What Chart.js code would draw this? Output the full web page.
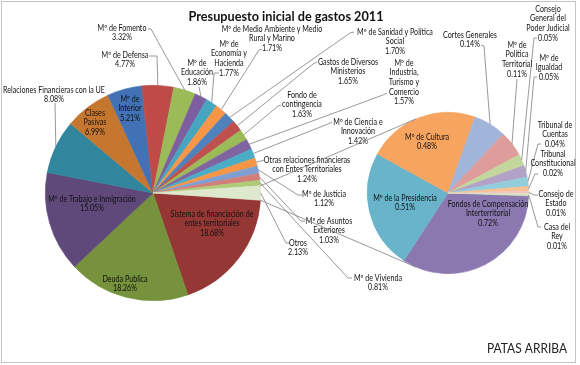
<!DOCTYPE html>
<html>
<head>
<meta charset="utf-8">
<script src="https://cdn.jsdelivr.net/npm/chart.js@4.4.0/dist/chart.umd.min.js"></script>
<style>
  body { margin: 0; background: #fff; }
  #wrap { position: relative; width: 580px; height: 365px; }
  canvas { position: absolute; left: 0; top: 0; }
</style>
</head>
<body>
<div id="wrap">
  <canvas id="mainPie" width="580" height="365"></canvas>
  <canvas id="subPie" width="580" height="365"></canvas>
</div>
<script>
// main pie (percent of total budget)
const mainLabels = [
  "Sistema de financiación de\nentes territoriales",
  "Deuda Publica",
  "Mº de Trabajo e Inmigración",
  "Relaciones Financieras con la UE",
  "Clases\nPasivas",
  "Mº de\nInterior",
  "Mº de Defensa",
  "Mº de Fomento",
  "Mº de\nEducación",
  "Mº de\nEconomía y\nHacienda",
  "Mº de Medio Ambiente y Medio\nRural y Marino",
  "Mº de Sanidad y Política\nSocial",
  "Gastos de Diversos\nMinisterios",
  "Fondo de\ncontingencia",
  "Mº de\nIndustria,\nTurismo y\nComercio",
  "Mº de Ciencia e\nInnovación",
  "Otras relaciones financieras\ncon Entes Territoriales",
  "Mº de Justicia",
  "Mº de Asuntos\nExteriores",
  "Mº de Vivienda",
  "Otros",
];
const mainValues = [18.68, 18.26, 15.05, 8.08, 6.99, 5.21, 4.77, 3.32, 1.86, 1.77, 1.71, 1.70, 1.65, 1.63, 1.57, 1.42, 1.24, 1.12, 1.03, 0.81, 2.13];

// second pie, the "Otros" slice split up
const subLabels = [
  "Fondos de Compensación\nInterterritorial",
  "Mº de la Presidencia",
  "Mº de Cultura",
  "Cortes Generales",
  "Mº de\nPolítica\nTerritorial",
  "Consejo\nGeneral del\nPoder Judicial",
  "Mº de\nIgualdad",
  "Tribunal de\nCuentas",
  "Tribunal\nConstitucional",
  "Consejo de\nEstado",
  "Casa del\nRey",
];
const subValues = [0.72, 0.51, 0.48, 0.14, 0.11, 0.05, 0.05, 0.04, 0.02, 0.01, 0.01];

const mainColors = [
  "#953735", "#76923C", "#5F497A", "#31859C", "#C6772F", "#4272B5", "#BE4B48",
  "#9BBB59", "#7D5FA0", "#46A6C0", "#F79646", "#4F81BD", "#C0504D", "#9BBB59",
  "#8064A2", "#4BACC6", "#F79646", "#7F9FD3", "#D27F7C", "#AFCB78", "#DEE8CC",
];
const subColors = [
  "#8C78B0", "#69B3CB", "#F8A461", "#A1B5DA", "#DE9C9B", "#C3D69B",
  "#B3A2C7", "#92CDDC", "#FAC090", "#F2C4C2", "#D7E4BD",
];

// label placement: text centre, first line y, leader path (ends at slice edge)
const mainLabelPos = [
  { x: 212, y: 214 },
  { x: 125, y: 279 },
  { x: 92, y: 199 },
  { x: 54, y: 90, path: [[55, 103]] },
  { x: 95, y: 113 },
  { x: 130, y: 99 },
  { x: 125, y: 55, path: [[149, 56], [157, 56]] },
  { x: 122, y: 28, path: [[148, 29], [151, 29]] },
  { x: 197, y: 63, path: [[199, 87]] },
  { x: 229, y: 44, path: [[219, 73], [214, 73]] },
  { x: 272, y: 29, path: [[262, 49], [259, 50]] },
  { x: 395, y: 32, path: [[354, 32], [350, 33]] },
  { x: 348, y: 62, path: [[317, 62], [313, 64]] },
  { x: 302, y: 95, path: [[281, 105], [278, 106]] },
  { x: 404, y: 63, path: [[387, 93], [383, 95]] },
  { x: 358, y: 122, path: [[332, 122], [328, 124]] },
  { x: 307, y: 160, path: [[264, 160], [261, 161]] },
  { x: 324, y: 194, path: [[302, 195], [298, 195]] },
  { x: 329, y: 221, path: [[305, 221], [301, 221]] },
  { x: 378, y: 278, path: [[352, 278], [348, 278]] },
  { x: 298, y: 243, path: [[290, 243], [286, 243]] },
];
const subLabelPos = [
  { x: 488, y: 204 },
  { x: 405, y: 198 },
  { x: 427, y: 137 },
  { x: 470, y: 35, path: [[481, 45], [484, 46]] },
  { x: 517, y: 45, path: [[517, 79]] },
  { x: 548, y: 9, path: [[537, 38], [534, 38]] },
  { x: 549, y: 58, path: [[537, 77], [534, 77]] },
  { x: 555, y: 125, path: [[541, 144], [538, 144]] },
  { x: 553, y: 154, path: [[538, 174], [535, 174]] },
  { x: 556, y: 194, path: [[538, 195], [534, 195]] },
  { x: 557, y: 227, path: [[541, 227], [538, 227]] },
];

const lineH = 9.6;
const labelFont = "8.5px Lato";
const squeeze = 0.84; // Calibri is narrower than Lato
const inkColor = "#111111";
const leaderColor = "#7f7f7f";

function edgePoint(arc) {
  const p = arc.getProps(["x", "y", "startAngle", "endAngle", "outerRadius"], true);
  const mid = (p.startAngle + p.endAngle) / 2;
  return [p.x + p.outerRadius * Math.cos(mid), p.y + p.outerRadius * Math.sin(mid)];
}

function drawLabels(chart, names, values, layout) {
  const ctx = chart.ctx;
  const meta = chart.getDatasetMeta(0);
  ctx.save();
  ctx.strokeStyle = leaderColor;
  ctx.lineWidth = 0.8;
  layout.forEach((pos, i) => {
    if (!pos.path) return;
    const end = edgePoint(meta.data[i]);
    ctx.beginPath();
    ctx.moveTo(pos.path[0][0], pos.path[0][1]);
    pos.path.slice(1).forEach((pt) => ctx.lineTo(pt[0], pt[1]));
    ctx.lineTo(end[0], end[1]);
    ctx.stroke();
  });
  ctx.font = labelFont;
  ctx.fillStyle = inkColor;
  ctx.textAlign = "center";
  ctx.textBaseline = "middle";
  layout.forEach((pos, i) => {
    const lines = names[i].split("\n").concat(values[i].toFixed(2) + "%");
    lines.forEach((t, k) => {
      const w = ctx.measureText(t).width * squeeze;
      ctx.fillText(t, pos.x, pos.y + k * lineH, w);
    });
  });
  ctx.restore();
}

const framePlugin = {
  id: "frame",
  beforeDraw(chart) {
    const ctx = chart.ctx;
    ctx.save();
    ctx.fillStyle = "#ffffff";
    ctx.fillRect(0, 0, chart.width, chart.height);
    ctx.strokeStyle = "#c4c4c4";
    ctx.lineWidth = 1;
    ctx.strokeRect(1.5, 1.5, 574, 361);
    ctx.fillStyle = "#111";
    ctx.font = "bold 14px Lato";
    ctx.textAlign = "center";
    ctx.textBaseline = "middle";
    ctx.fillText("Presupuesto inicial de gastos 2011", 286, 16, 195);
    ctx.font = "13px Lato";
    ctx.textAlign = "right";
    ctx.fillStyle = "#222";
    ctx.fillText("PATAS ARRIBA", 567, 349, 80);
    ctx.restore();
  },
};

const mainLabelPlugin = {
  id: "mainLabels",
  afterDraw(chart) {
    drawLabels(chart, mainLabels, mainValues, mainLabelPos);
  },
};

const mainTotal = mainValues.reduce((a, b) => a + b, 0);

const mainChart = new Chart(document.getElementById("mainPie"), {
  type: "pie",
  data: {
    labels: mainLabels,
    datasets: [
      {
        data: mainValues,
        backgroundColor: mainColors,
        borderColor: mainColors,
        borderWidth: 0.6,
      },
    ],
  },
  options: {
    responsive: false,
    animation: false,
    events: [],
    rotation: 90 + (mainValues[mainValues.length - 1] / mainTotal) * 180,
    layout: { padding: { left: 45, right: 319, top: 85, bottom: 64 } },
    plugins: { legend: { display: false }, tooltip: { enabled: false } },
  },
  plugins: [framePlugin, mainLabelPlugin],
});

// lines from the "Otros" slice to the second pie, tangent to it
const seriesLinePlugin = {
  id: "seriesLines",
  afterDraw(chart) {
    const ctx = chart.ctx;
    const otros = mainChart.getDatasetMeta(0).data[mainValues.length - 1];
    const o = otros.getProps(["x", "y", "startAngle", "endAngle", "outerRadius"], true);
    const sub = chart.getDatasetMeta(0).data[0].getProps(["x", "y", "outerRadius"], true);
    ctx.save();
    ctx.strokeStyle = leaderColor;
    ctx.lineWidth = 0.8;
    [[o.startAngle, 1], [o.endAngle, -1]].forEach(([ang, side]) => {
      const px = o.x + o.outerRadius * Math.cos(ang);
      const py = o.y + o.outerRadius * Math.sin(ang);
      const d = Math.hypot(px - sub.x, py - sub.y);
      const base = Math.atan2(py - sub.y, px - sub.x);
      const t = base + side * Math.acos(sub.outerRadius / d);
      ctx.beginPath();
      ctx.moveTo(px, py);
      ctx.lineTo(sub.x + sub.outerRadius * Math.cos(t), sub.y + sub.outerRadius * Math.sin(t));
      ctx.stroke();
    });
    ctx.restore();
    drawLabels(chart, subLabels, subValues, subLabelPos);
  },
};

const subChart = new Chart(document.getElementById("subPie"), {
  type: "pie",
  data: {
    labels: subLabels,
    datasets: [
      {
        data: subValues,
        backgroundColor: subColors,
        borderColor: subColors,
        borderWidth: 0.6,
      },
    ],
  },
  options: {
    responsive: false,
    animation: false,
    events: [],
    rotation: 92,
    layout: { padding: { left: 367, right: 51, top: 112, bottom: 91 } },
    plugins: { legend: { display: false }, tooltip: { enabled: false } },
  },
  plugins: [seriesLinePlugin],
});
</script>
</body>
</html>
